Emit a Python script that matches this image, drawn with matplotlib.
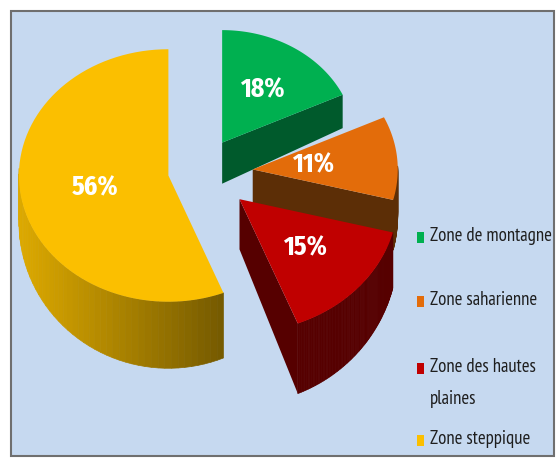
import numpy as np
import matplotlib
matplotlib.use('Agg')
import matplotlib.pyplot as plt
from matplotlib.patches import Polygon, Rectangle
from matplotlib.colors import to_rgb

# data
zones = ['Zone de montagne', 'Zone saharienne', 'Zone des hautes\nplaines', 'Zone steppique']
parts = [18, 11, 15, 56]
top_col = ['#00b050', '#e36c0a', '#c00000', '#fbbf00']
side_col = ['#005a2c', '#5c2e06', '#560000', '#c99a00']

W, H = 556, 459
fig = plt.figure(figsize=(W / 100, H / 100), dpi=100)
ax = fig.add_axes([0, 0, 1, 1])
ax.set_xlim(0, W)
ax.set_ylim(H, 0)
ax.axis('off')

# light blue chart area
ax.add_patch(Rectangle((10.5, 10.5), 543, 445, facecolor='#c6d9f0', edgecolor='#6f6f6f', lw=1.5))

# fake 3d pie (pixel units), slightly perspective: front slices drawn bigger
cx, cy = 190, 173
rx, ry = 148, 125
explode = [60, 63, 66, 22]
scale = [0.9, 0.98, 1.07, 1.01]
lab_r = [0.56, 0.42, 0.55, 0.5]
pct_font = ['Fira Sans Extra Condensed', 'PT Sans Narrow', 'Carlito', 'DejaVu Sans']
leg_font = ['PT Sans Narrow', 'Carlito', 'DejaVu Sans']


def shade(c, f):
    r, g, b = to_rgb(c)
    return tuple(min(1.0, v * f) for v in (r, g, b))


def depth(y):
    # nearer parts look thicker
    return 33 + 0.16 * (y - 92)


tot = float(sum(parts))
start = 90.0
slices = []
for i, p in enumerate(parts):
    ang = 360.0 * p / tot
    a0, a1 = start - ang, start
    start = a0
    mid = np.radians((a0 + a1) / 2)
    ox = cx + explode[i] * np.cos(mid)
    oy = cy - explode[i] * np.sin(mid) * 0.6
    slices.append((i, a0, a1, ox, oy, mid))

# back to front: green, orange, yellow, red
for i, a0, a1, ox, oy, mid in [slices[0], slices[1], slices[3], slices[2]]:
    sx, sy = rx * scale[i], ry * scale[i]
    t = np.radians(np.linspace(a0, a1, 80))
    xs = ox + sx * np.cos(t)
    ys = oy - sy * np.sin(t)
    # radial walls facing the viewer
    for a, sgn in [(a0, -1), (a1, 1)]:
        if np.sin(np.radians(a + sgn * 90)) < 0.05:
            ex = ox + sx * np.cos(np.radians(a))
            ey = oy - sy * np.sin(np.radians(a))
            ax.add_patch(Polygon([(ox, oy), (ex, ey), (ex, ey + depth(ey)), (ox, oy + depth(oy))],
                                 closed=True, facecolor=side_col[i], edgecolor='none'))
    # curved outer wall, front part only
    for k in range(len(t) - 1):
        if np.sin(t[k]) > 0.02 and np.sin(t[k + 1]) > 0.02:
            continue
        if i == 3:
            f = 1.1 - 0.77 * (np.cos(t[k]) + 1) / 2
            c = shade(side_col[i], max(0.5, f))
        else:
            c = side_col[i]
        ax.add_patch(Polygon([(xs[k], ys[k]), (xs[k + 1], ys[k + 1]),
                              (xs[k + 1], ys[k + 1] + depth(ys[k + 1])), (xs[k], ys[k] + depth(ys[k]))],
                             closed=True, facecolor=c, edgecolor=c, lw=0.5))
    # top face
    ax.add_patch(Polygon(np.column_stack([np.r_[ox, xs], np.r_[oy, ys]]), closed=True,
                         facecolor=top_col[i], edgecolor='none'))
    ax.text(ox + lab_r[i] * sx * np.cos(mid), oy - lab_r[i] * sy * np.sin(mid), '%d%%' % parts[i],
            color='white', fontsize=20, fontweight='bold', family=pct_font, ha='center', va='center')

# legend
leg_y = [238, 302, 369, 441]
for i, lab in enumerate(zones):
    ax.add_patch(Rectangle((417, leg_y[i] - 6), 7, 11, facecolor=top_col[i], edgecolor='none'))
    ax.text(430, leg_y[i] - 11, lab, fontsize=13.5, family=leg_font, color='#1e1e1e',
            ha='left', va='top', linespacing=2.0)

fig.savefig('out.png', dpi=100, facecolor='white')
